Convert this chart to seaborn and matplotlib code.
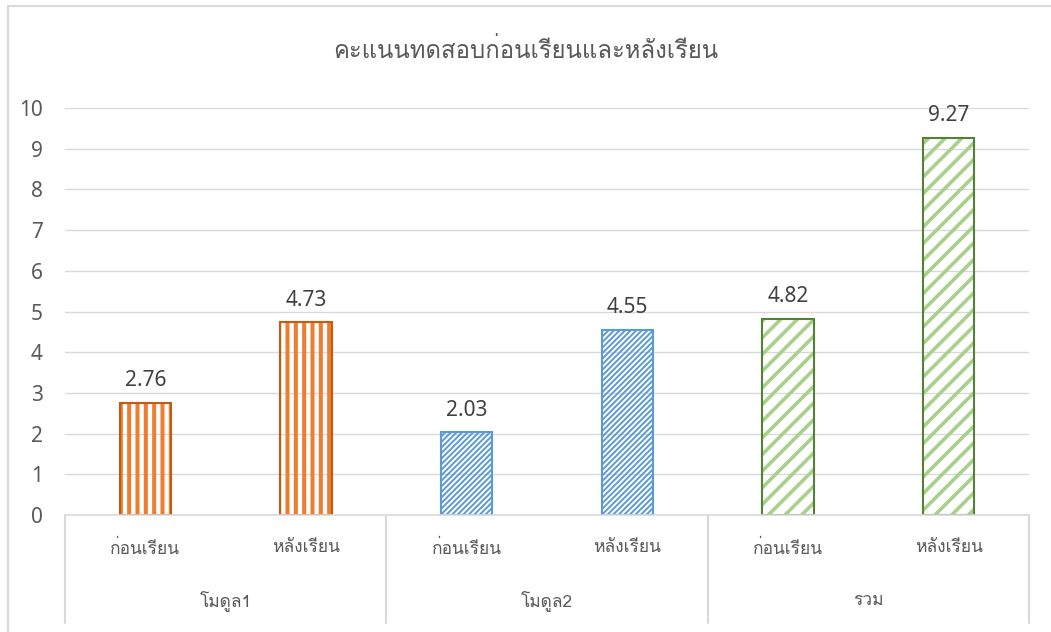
import matplotlib
matplotlib.use("Agg")
import matplotlib.pyplot as plt
from matplotlib import font_manager
from matplotlib.patches import Rectangle
from matplotlib.ft2font import FT2Font
import seaborn as sns
import pandas as pd

title = "คะแนนทดสอบก่อนเรียนและหลังเรียน"
groups = ["โมดูล1", "โมดูล2", "รวม"]
phases = ["ก่อนเรียน", "หลังเรียน"]
values = [2.76, 4.73, 2.03, 4.55, 4.82, 9.27]
yticks = [0, 1, 2, 3, 4, 5, 6, 7, 8, 9, 10]

# find an installed font with Thai glyphs
thai_font = None
for f in font_manager.fontManager.ttflist:
    try:
        if 0x0E01 in FT2Font(f.fname).get_charmap():
            thai_font = f.name
            break
    except Exception:
        pass

sns.set_theme(style="white")
fams = ([thai_font] if thai_font else []) + ["DejaVu Sans"]
plt.rcParams["font.family"] = fams
num_font = ["Noto Sans", "DejaVu Sans"]

cats = [f"{g}|{p}" for g in groups for p in phases]
df = pd.DataFrame({"cat": cats, "value": values})

fig = plt.figure(figsize=(10.51, 6.32), dpi=100)
ax = fig.add_axes([65 / 1051, 1 - 515 / 632, (1029 - 65) / 1051, (515 - 108) / 632])

hatch_col = ["#ED7D31", "#ED7D31", "#5B9BD5", "#5B9BD5", "#A9D18E", "#A9D18E"]
edge_col = ["#C55A11", "#C55A11", "#5B9BD5", "#5B9BD5", "#548235", "#548235"]
hatches = ["||", "||", "//////", "//////", "//", "//"]
hlw = [2.9, 2.9, 1.4, 1.4, 2.6, 2.6]

sns.barplot(data=df, x="cat", y="value", width=0.32, ax=ax, fill=False,
            linewidth=0, errorbar=None)
for p, hc, h, lw in zip(ax.patches, hatch_col, hatches, hlw):
    p.set_hatch(h)
    p.set_edgecolor(hc)
    p.set_linewidth(0)
    if hasattr(p, "set_hatch_linewidth"):
        p.set_hatch_linewidth(lw)
    elif hasattr(p, "_hatch_linewidth"):
        p._hatch_linewidth = lw
n_first = len(ax.patches)
sns.barplot(data=df, x="cat", y="value", width=0.32, ax=ax, fill=False,
            linewidth=1.5, errorbar=None)
for p, ec in zip(ax.patches[n_first:], edge_col):
    p.set_edgecolor(ec)
    p.set_facecolor("none")

for i, v in enumerate(values):
    ax.text(i, v + 0.28, f"{v:.2f}", ha="center", va="bottom", fontsize=15,
            color="#404040", family=num_font)

ax.set_ylim(0, 10)
ax.set_xlim(-0.5, len(cats) - 0.5)
ax.set_yticks(yticks)
ax.set_yticklabels([str(t) for t in yticks], fontsize=15, color="#595959", family=num_font)
ax.yaxis.grid(True, color="#D9D9D9", linewidth=1)
ax.set_axisbelow(True)
for s in ["top", "right", "left"]:
    ax.spines[s].set_visible(False)
ax.spines["bottom"].set_color("#D9D9D9")
ax.spines["bottom"].set_linewidth(1.2)
ax.tick_params(axis="y", length=0, pad=16)
ax.tick_params(axis="x", length=0, pad=18)
ax.set_xticks(range(len(cats)))
ax.set_xticklabels([p for g in groups for p in phases], fontsize=12.5, color="#595959")
ax.set_xlabel("")
ax.set_ylabel("")

trans = ax.get_xaxis_transform()
for gi, g in enumerate(groups):
    ax.text(gi * 2 + 0.5, -(601 - 515) / 407, g, transform=trans, ha="center",
            va="center", fontsize=12.5, color="#595959")
for b in range(len(groups) + 1):
    ax.plot([b * 2 - 0.5, b * 2 - 0.5], [0, -(623 - 515) / 407], transform=trans,
            color="#D9D9D9", linewidth=1.5, clip_on=False)

fig.text(0.5, 1 - 50 / 632, title, ha="center", va="center", fontsize=17.2, color="#595959")

# outer chart border
fig.add_artist(Rectangle((8 / 1051, -0.1), 1.2, 1 - 6 / 632 + 0.1, transform=fig.transFigure,
                         fill=False, edgecolor="#D9D9D9", linewidth=1.5))

fig.savefig("out.png", dpi=100)
